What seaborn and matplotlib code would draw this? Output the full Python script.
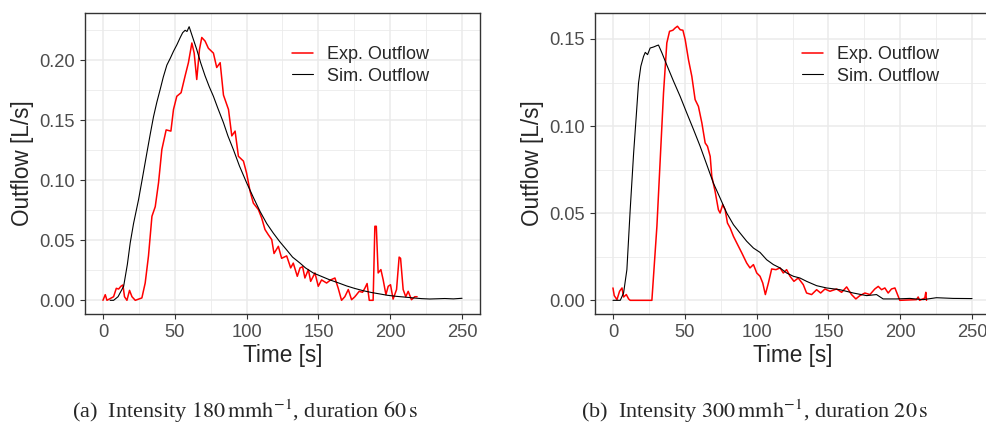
import matplotlib
matplotlib.use('Agg')
import matplotlib.pyplot as plt
import seaborn as sns
import pandas as pd
from matplotlib.ticker import MultipleLocator

# ---- dados (a) ----
a_exp_t = [0, 1.6, 2.8, 7.4, 9.3, 10.9, 12.5, 13.9, 15, 16.7, 18.5, 20.2, 22.5, 27.1, 29.4, 31.7,
           34.1, 36.4, 38.7, 41, 44, 47.3, 49.1, 51.4, 54.4, 57.2, 59.5, 61.9, 63.5, 65.3, 67.2,
           68.8, 71.1, 73.4, 76.9, 79.2, 81.6, 83.9, 87.4, 89.7, 92, 94.3, 97.8, 100, 102.4, 104.7,
           108.2, 110.5, 112.8, 115.1, 117.5, 119.1, 122.1, 124.4, 127.9, 130.7, 132.5, 135.3,
           137.2, 139, 140.6, 143, 144.6, 147.6, 149.9, 152.2, 155.7, 158.5, 161.5, 163.8, 166.1,
           168.4, 170.8, 173.1, 175.4, 178.4, 180.7, 182.3, 183.9, 185.4, 188.1, 189.3, 190.3,
           191.6, 193.5, 195.1, 197, 198.6, 200.2, 202, 204.4, 206.2, 207.2, 209, 210.8, 212.5,
           214.8, 217.1, 218.7]
a_exp_v = [0, 0.0047, 0, 0.003, 0.010, 0.0094, 0.0117, 0.0128, 0.003, 0, 0.0083, 0.003, 0, 0.002,
           0.0144, 0.037, 0.070, 0.078, 0.098, 0.1256, 0.142, 0.141, 0.159, 0.170, 0.173, 0.187,
           0.198, 0.2144, 0.206, 0.184, 0.209, 0.219, 0.216, 0.210, 0.206, 0.194, 0.198, 0.171,
           0.159, 0.137, 0.141, 0.120, 0.116, 0.106, 0.091, 0.081, 0.0756, 0.0686, 0.059, 0.0547,
           0.0506, 0.039, 0.045, 0.035, 0.037, 0.027, 0.031, 0.020, 0.027, 0.028, 0.0186, 0.0256,
           0.0158, 0.0228, 0.0117, 0.017, 0.0144, 0.017, 0.0186, 0.010, 0, 0.003, 0.009, 0.0005,
           0.003, 0.0075, 0.0067, 0.010, 0.014, 0, 0, 0.0617, 0.0617, 0.0228, 0.0256, 0.017,
           0.0047, 0.0117, 0.013, 0.001, 0.009, 0.036, 0.035, 0.009, 0.003, 0.0075, 0.0005, 0.003,
           0.003]

a_sim_t = [5, 7.4, 10.5, 14.4, 17, 19, 21.3, 24.8, 27.5, 30.6, 33, 35.2, 37.5, 39.9, 42, 44.5,
           47, 49.1, 51.5, 53.8, 55.5, 57.2, 58.5, 60, 62.5, 65.3, 68, 71.1, 74, 76.9, 80, 83.9,
           87, 90.8, 95, 100, 105, 109.4, 114, 118.6, 123, 127.9, 132, 137.2, 141, 146.4, 152,
           158, 164, 169.6, 175, 181.2, 187, 192.8, 198, 204.4, 210, 216, 222, 227.5, 233, 238,
           244, 250]
a_sim_v = [0, 0, 0.003, 0.0117, 0.030, 0.048, 0.064, 0.084, 0.102, 0.123, 0.139, 0.153, 0.165,
           0.176, 0.186, 0.196, 0.202, 0.2075, 0.213, 0.219, 0.223, 0.225, 0.224, 0.228, 0.219,
           0.209, 0.198, 0.187, 0.178, 0.170, 0.160, 0.148, 0.137, 0.1256, 0.112, 0.098, 0.085,
           0.074, 0.064, 0.056, 0.049, 0.042, 0.036, 0.031, 0.027, 0.0228, 0.020, 0.017, 0.0145,
           0.012, 0.010, 0.008, 0.0065, 0.0053, 0.0042, 0.0033, 0.0027, 0.002, 0.0014, 0.0011,
           0.0013, 0.0015, 0.0012, 0.0017]

# ---- dados (b) ----
b_exp_t = [0, 0.9, 2.8, 4.6, 6.3, 7.4, 9.3, 10.9, 12, 27.1, 30.6, 32.9, 35.2, 37.5, 39.4, 41.7,
           43.3, 44.9, 46.8, 48.7, 50.3, 52.6, 54.9, 57.2, 59.5, 61.9, 64.2, 65.8, 67.7, 68.8,
           71.1, 73.4, 74.6, 76.4, 78.1, 79.7, 81.6, 83.9, 86.2, 89.7, 93.1, 95.4, 97.8, 100.1,
           102.4, 104.3, 106.1, 108.2, 110.5, 113.5, 116.3, 118.6, 120.9, 123.3, 126, 129, 132.5,
           134.8, 138.3, 141.8, 144.6, 147.6, 151.1, 155.7, 159.2, 162.7, 166.1, 169.1, 171.9,
           175.4, 178.9, 182.3, 184.7, 187, 189.3, 191.6, 193.9, 196.3, 198.6, 199.7, 211.3,
           212.5, 213.5, 217.1, 217.8, 218.3]
b_exp_v = [0.0071, 0.0027, 0.0004, 0.0052, 0.0071, 0.0019, 0.0033, 0.0008, 0, 0, 0.0425, 0.0807,
           0.119, 0.1477, 0.1544, 0.155, 0.1563, 0.1573, 0.1553, 0.155, 0.1496, 0.138, 0.1286,
           0.1152, 0.1113, 0.1018, 0.0903, 0.0884, 0.0826, 0.0712, 0.0626, 0.052, 0.0501, 0.0549,
           0.052, 0.0444, 0.0415, 0.0367, 0.0329, 0.0272, 0.0214, 0.0186, 0.0205, 0.0157, 0.0138,
           0.0099, 0.0033, 0.0099, 0.018, 0.0176, 0.0186, 0.0157, 0.0176, 0.0138, 0.0109, 0.0128,
           0.009, 0.0042, 0.0033, 0.0061, 0.0042, 0.0065, 0.0052, 0.0065, 0.0046, 0.0077, 0.0033,
           0.0008, 0.0027, 0.0042, 0.0033, 0.0065, 0.008, 0.0061, 0.0071, 0.0042, 0.0065, 0.0071,
           0.0023, 0, 0.0004, 0.0019, 0, 0.0013, 0.0046, 0]

b_sim_t = [0, 5.1, 7.4, 9.7, 12, 14.4, 16.2, 17.8, 19.4, 21.3, 22.5, 24.1, 25.9, 28.3, 30.6, 31.7,
           34.1, 37.5, 42.2, 46.8, 51.4, 56.1, 60.7, 65.3, 69.9, 74.6, 79.2, 83.9, 88.5, 93.1,
           97.8, 102.4, 107, 111.7, 116.3, 120.9, 125.6, 130.2, 134.8, 141.8, 148.7, 158, 167.3,
           176.6, 183.5, 188.1, 197.4, 206.7, 216, 225.2, 236.8, 250]
b_sim_v = [0, 0, 0.0042, 0.0176, 0.052, 0.0846, 0.1056, 0.1247, 0.1343, 0.140, 0.1423, 0.141,
           0.1448, 0.1454, 0.1462, 0.1465, 0.142, 0.135, 0.1257, 0.117, 0.1075, 0.098, 0.0884,
           0.0779, 0.0673, 0.0587, 0.0501, 0.0434, 0.0386, 0.0339, 0.030, 0.0275, 0.0233, 0.0205,
           0.0186, 0.0157, 0.0138, 0.0128, 0.0109, 0.0084, 0.0071, 0.0061, 0.0042, 0.0027, 0.0033,
           0.0008, 0.0008, 0.0011, 0.0004, 0.0015, 0.0011, 0.001]

legenda = ['Exp. Outflow', 'Sim. Outflow']
legendas_fig = [r'(a)  Intensity $180\,\mathrm{mm h}^{-1}$, duration $60\,\mathrm{s}$',
                r'(b)  Intensity $300\,\mathrm{mm h}^{-1}$, duration $20\,\mathrm{s}$']

sns.set_style('white')
plt.rcParams['font.family'] = ['Liberation Sans', 'DejaVu Sans']
plt.rcParams['mathtext.fontset'] = 'stix'

fig = plt.figure(figsize=(9.87, 4.24), dpi=100)
ax_a = fig.add_axes([85 / 987, 110 / 424, 395 / 987, 301 / 424])
ax_b = fig.add_axes([595 / 987, 110 / 424, 395 / 987, 301 / 424])

paineis = [
    (ax_a, a_exp_t, a_exp_v, a_sim_t, a_sim_v, 0.05, (-0.0114, 0.2394)),
    (ax_b, b_exp_t, b_exp_v, b_sim_t, b_sim_v, 0.05, (-0.00785, 0.1649)),
]

for ax, et, ev, st, sv, passo, ylim in paineis:
    df_exp = pd.DataFrame({'t': et, 'v': ev})
    df_sim = pd.DataFrame({'t': st, 'v': sv})
    sns.lineplot(data=df_exp, x='t', y='v', color='#FF0000', lw=1.1, ax=ax, label=legenda[0])
    sns.lineplot(data=df_sim, x='t', y='v', color='black', lw=0.8, ax=ax, label=legenda[1])

    ax.set_xlim(-12.5, 262.5)
    ax.set_ylim(*ylim)
    ax.xaxis.set_major_locator(MultipleLocator(50))
    ax.xaxis.set_minor_locator(MultipleLocator(25))
    ax.yaxis.set_major_locator(MultipleLocator(passo))
    ax.yaxis.set_minor_locator(MultipleLocator(passo / 2))
    ax.yaxis.set_major_formatter(matplotlib.ticker.FormatStrFormatter('%.2f'))

    # grade estilo theme_bw
    ax.grid(True, which='major', color='#EBEBEB', lw=1.1)
    ax.grid(True, which='minor', color='#EBEBEB', lw=0.6)
    ax.set_axisbelow(True)
    for s in ax.spines.values():
        s.set_color('#333333')
        s.set_linewidth(1.0)
    ax.tick_params(which='major', direction='out', length=3.6, width=0.8, color='#333333',
                   labelsize=13.2, labelcolor='#4D4D4D', pad=3.5, left=True, bottom=True)
    ax.tick_params(which='minor', length=0)

    ax.set_xlabel('Time [s]', fontsize=16.3, labelpad=2)
    ax.set_ylabel('Outflow [L/s]', fontsize=16.3, labelpad=4)

    leg = ax.legend(loc='upper left', bbox_to_anchor=(0.525, 0.89), frameon=False,
                    fontsize=13, handlelength=1.15, handletextpad=0.75, labelspacing=0.25,
                    borderpad=0, borderaxespad=0)

fig.text(245 / 987, 13 / 424, legendas_fig[0], ha='center', va='center', fontsize=16,
         family=['Liberation Serif', 'DejaVu Serif'])
fig.text(755 / 987, 13 / 424, legendas_fig[1], ha='center', va='center', fontsize=16,
         family=['Liberation Serif', 'DejaVu Serif'])

plt.savefig('out.png', dpi=100)
plt.close()
